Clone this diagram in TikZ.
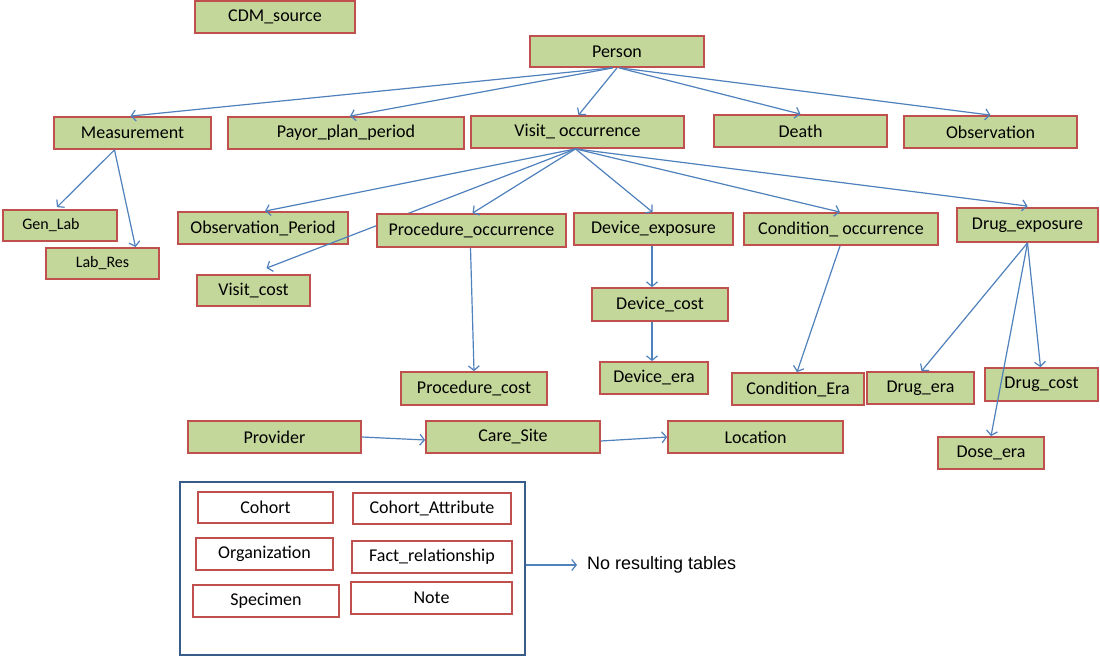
\documentclass[tikz,border=0pt]{standalone}
\usepackage{fontspec}
\setmainfont{Carlito}
\newfontfamily\arialfont{Liberation Sans}
\usetikzlibrary{arrows.meta,calc}
\definecolor{boxfill}{RGB}{196,215,155}
\definecolor{boxline}{RGB}{192,80,77}
\definecolor{arrowblue}{RGB}{79,129,189}
\definecolor{framecol}{RGB}{56,93,138}
\tikzset{
  tbl/.style={draw=boxline, fill=boxfill, line width=1.8pt, inner sep=0pt,
    font=\fontsize{18}{21}\selectfont},
  smalltbl/.style={tbl, font=\fontsize{16}{19}\selectfont},
  legtbl/.style={draw=boxline, fill=white, line width=1.6pt, inner sep=0pt,
    font=\fontsize{18}{21}\selectfont},
  conn/.style={draw=arrowblue, line width=1.2pt, -{Straight Barb[length=4.5pt,width=11pt]}},
}
\begin{document}
\begin{tikzpicture}[x=1pt,y=-1pt]
\useasboundingbox (0,0) rectangle (1100,656);
\fill[white] (0,0) rectangle (1100,656);

% nodes
\node[tbl, minimum width=160, minimum height=32] (cdm) at (275,17) {CDM\_source};
\node[tbl, minimum width=174, minimum height=31] (person) at (617,51.5) {Person};
\node[tbl, minimum width=157, minimum height=32] (meas) at (132.5,133) {Measurement};
\node[tbl, minimum width=236, minimum height=32] (payor) at (346,133) {Payor\_plan\_period};
\node[tbl, minimum width=213, minimum height=32] (visit) at (577.5,132) {Visit\_ occurrence};
\node[tbl, minimum width=173, minimum height=32] (death) at (800.5,131) {Death};
\node[tbl, minimum width=173, minimum height=32] (obs) at (990.5,132) {Observation};
\node[smalltbl, minimum width=114, minimum height=31] (genlab) at (60,225.5) {\hspace*{-18pt}Gen\_Lab};
\node[smalltbl, minimum width=113, minimum height=31] (labres) at (102.5,263.5) {Lab\_Res};
\node[tbl, minimum width=170, minimum height=32] (obsper) at (263,228) {Observation\_Period};
\node[tbl, minimum width=113, minimum height=31] (visitcost) at (253.5,290.5) {Visit\_cost};

% Visit -> Visit_cost passes behind Procedure_occurrence
\draw[conn] ([xshift=-2pt]visit.south) -- ([xshift=13pt,yshift=6pt]visitcost.north);

\node[tbl, minimum width=189, minimum height=33] (prococc) at (471.5,230.5) {Procedure\_occurrence};
\node[tbl, minimum width=159, minimum height=32] (devexp) at (653.5,229) {Device\_exposure};
\node[tbl, minimum width=194, minimum height=32] (condocc) at (841,229) {Condition\_ occurrence};
\node[tbl, minimum width=141, minimum height=34] (drugexp) at (1027.5,225) {Drug\_exposure};
\node[tbl, minimum width=136, minimum height=33] (devcost) at (660,304.5) {Device\_cost};
\node[tbl, minimum width=108, minimum height=32] (devera) at (654,378) {Device\_era};
\node[tbl, minimum width=146, minimum height=33] (proccost) at (474,388.5) {Procedure\_cost};
\node[tbl, minimum width=132, minimum height=32] (condera) at (798,389) {Condition\_Era};
\node[tbl, minimum width=107, minimum height=32] (drugera) at (920.5,388) {Drug\_era};
\node[tbl, minimum width=113, minimum height=33] (drugcost) at (1041.5,384.5) {Drug\_cost};
\node[tbl, minimum width=106, minimum height=32] (doseera) at (991,453) {Dose\_era};
\node[tbl, minimum width=173, minimum height=32] (provider) at (274.5,437) {Provider};
\node[tbl, minimum width=174, minimum height=32] (caresite) at (513,437) {Care\_Site};
\node[tbl, minimum width=175, minimum height=32] (location) at (755.5,437) {Location};

% legend
\node[draw=framecol, line width=2pt, minimum width=345, minimum height=173, inner sep=0pt] (frame) at (352.5,568) {};
\node[legtbl, minimum width=135, minimum height=31] (cohort) at (265.5,507.5) {Cohort};
\node[legtbl, minimum width=158, minimum height=31] (cohattr) at (432,508.5) {Cohort\_Attribute};
\node[legtbl, minimum width=137, minimum height=32] (org) at (264.5,554) {Organization};
\node[legtbl, minimum width=160, minimum height=32] (fact) at (432,557) {Fact\_relationship};
\node[legtbl, minimum width=146, minimum height=32] (specimen) at (266,601) {Specimen};
\node[legtbl, minimum width=161, minimum height=32] (note) at (431.5,598) {Note};
\node[anchor=west, inner sep=0pt, font=\arialfont\fontsize{18}{21}\selectfont] (nores) at (587,565) {No resulting tables};

% connectors
\draw[conn] ([xshift=-5pt]person.south) -- ([xshift=-2pt]meas.north);
\draw[conn] ([xshift=-4pt]person.south) -- ([xshift=4pt]payor.north);
\draw[conn] (person.south) -- ([xshift=1pt]visit.north);
\draw[conn] ([xshift=2pt]person.south) -- (death.north);
\draw[conn] ([xshift=3pt]person.south) -- (obs.north);

\draw[conn] ([xshift=-2pt]visit.south) -- ([xshift=2pt]obsper.north);
\draw[conn] ([xshift=-2pt]visit.south) -- ([xshift=1pt]prococc.north);
\draw[conn] ([xshift=-2pt]visit.south) -- ([xshift=-1pt]devexp.north);
\draw[conn] ([xshift=-2pt]visit.south) -- ([xshift=-1pt]condocc.north);
\draw[conn] ([xshift=-2pt]visit.south) -- ([yshift=1pt]drugexp.north);

\draw[conn] ([xshift=-18pt]meas.south) -- ([xshift=-3pt,yshift=2pt]genlab.north);
\draw[conn] ([xshift=-18pt]meas.south) -- ([xshift=33pt]labres.north);

\draw[conn] ([xshift=-1pt]prococc.south) -- ([xshift=0pt]proccost.north);
\draw[conn] ([xshift=-1.5pt]devexp.south) -- ([xshift=-8pt]devcost.north);
\draw[conn] ([xshift=-8pt]devcost.south) -- ([xshift=-2pt]devera.north);
\draw[conn] ([xshift=-1pt]condocc.south) -- ([xshift=-1pt]condera.north);

\draw[conn] (drugexp.south) -- ([xshift=1pt]drugera.north);
\draw[conn] (drugexp.south) -- ([xshift=-1pt]drugcost.north);
\draw[conn] (drugexp.south) -- (doseera.north);

\draw[conn] (provider.east) -- ([yshift=-3pt]caresite.west);
\draw[conn] ([yshift=-4pt]caresite.east) -- (location.west);

\draw[conn] (frame.east |- nores.west) -- ([xshift=-10pt]nores.west);
\end{tikzpicture}
\end{document}
